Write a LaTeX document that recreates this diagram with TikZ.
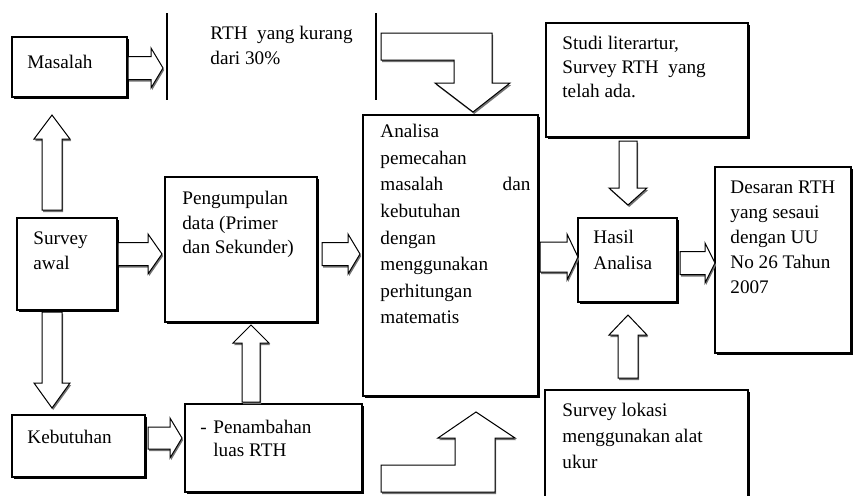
\documentclass[tikz,border=0pt]{standalone}
\usepackage{fontspec}
\setmainfont{Liberation Serif}
\usetikzlibrary{fit,shadows}
\newcommand\hblk[6]{\draw[blk] (#1,{#4-#5}) -- (#2,{#4-#5}) -- (#2,{#4-#6}) -- (#3,#4) -- (#2,{#4+#6}) -- (#2,{#4+#5}) -- (#1,{#4+#5}) -- cycle;}
\newcommand\vblk[6]{\draw[blk] ({#4-#5},#1) -- ({#4-#5},#2) -- ({#4-#6},#2) -- (#4,#3) -- ({#4+#6},#2) -- ({#4+#5},#2) -- ({#4+#5},#1) -- cycle;}
\tikzset{
  box/.style={draw=black, line width=0.6pt, fill=white, inner sep=0pt,
    drop shadow={shadow xshift=0.8pt, shadow yshift=-1.1pt, fill=black, opacity=1}},
  blk/.style={draw=black, line width=0.5pt, fill=white, line join=miter,
    drop shadow={shadow xshift=0.6pt, shadow yshift=-1pt, fill=black!55, opacity=1}},
  txt/.style={anchor=north west, inner sep=0pt, align=left, font=\fontsize{9.6}{12.5}\selectfont},
  sep/.style={line width=0.8pt, draw=black}
}
\begin{document}
\begin{tikzpicture}[x=0.5pt, y=-0.5pt]
\useasboundingbox (0,0) rectangle (853,495);
\clip (0,0) rectangle (853,495);
% boxes
\node[box, fit={(12,37) (127,97)}] (masalah) {};
\node[box, fit={(17,218) (117,310)}] (survey) {};
\node[box, fit={(12,415) (145,477)}] (kebutuhan) {};
\node[box, fit={(165,177) (317,322)}] (pengumpulan) {};
\node[box, fit={(185,404) (362,492)}] (penambahan) {};
\node[box, fit={(363,115) (538,396)}] (analisa) {};
\node[box, fit={(546,23) (748,137)}] (studi) {};
\node[box, fit={(578,218) (677,302)}] (hasil) {};
\node[box, fit={(715,167) (851,353)}] (desaran) {};
\node[box, fit={(545,390) (748,510)}] (lokasi) {};
% texts
\node[txt] (tmasalah) at (27,55) {Masalah};
\node[txt] (trth) at (210,26) {RTH\ \ yang kurang\\dari 30\%};
\node[txt, font=\fontsize{9.6}{12}\selectfont] (tstudi) at (562,36) {Studi literartur,\\Survey RTH\ \ yang\\telah ada.};
\node[txt, font=\fontsize{9.6}{13.3}\selectfont] (tanalisa) at (380,124) {Analisa\\pemecahan\\\makebox[75pt][s]{masalah\hfill dan}\\kebutuhan\\dengan\\menggunakan\\perhitungan\\matematis};
\node[txt, font=\fontsize{9.6}{12.3}\selectfont] (tpeng) at (182,191) {Pengumpulan\\data (Primer\\dan Sekunder)};
\node[txt] (tsurvey) at (33,231) {Survey\\awal};
\node[txt, font=\fontsize{9.6}{13}\selectfont] (thasil) at (593,230) {Hasil\\Analisa};
\node[txt] (tdesaran) at (730,181) {Desaran RTH\\yang sesaui\\dengan UU\\No 26 Tahun\\2007};
\node[txt] (tkeb) at (27,430) {Kebutuhan};
\node[txt, font=\fontsize{9.6}{11.5}\selectfont] (tpen) at (200,420) {-\hspace{3.3pt}Penambahan\\\hspace*{6.5pt}luas RTH};
\node[txt, font=\fontsize{9.6}{13}\selectfont] (tlokasi) at (562,403) {Survey lokasi\\menggunakan alat\\ukur};
% separator lines
\draw[sep] (167,13) -- (167,100);
\draw[sep] (376,13) -- (376,100);
% block arrows
\hblk{128}{151}{163}{68}{11.5}{20}
\hblk{118}{148}{162}{254}{11.5}{20}
\hblk{322}{348}{360}{254}{11.5}{20}
\hblk{540}{567}{578}{257}{15}{23}
\hblk{680}{705}{715}{263}{11.5}{20}
\hblk{148}{170}{182}{438}{11}{20}
\vblk{210}{139}{115}{52}{10}{18}
\vblk{312}{383}{408}{52}{10}{18}
\vblk{402}{343}{325}{251}{9}{18}
\vblk{141}{188}{205}{628}{9}{19}
\vblk{378}{335}{315}{628}{10}{19}
% bent arrows
\draw[blk] (381,33) -- (492,33) -- (492,83) -- (510,83) -- (473,112) -- (435,83) -- (454,83) -- (454,60) -- (381,60) -- cycle;
\draw[blk] (381,465) -- (455,465) -- (455,438) -- (438,438) -- (476,412) -- (515,438) -- (495,438) -- (495,492) -- (381,492) -- cycle;
\end{tikzpicture}
\end{document}
